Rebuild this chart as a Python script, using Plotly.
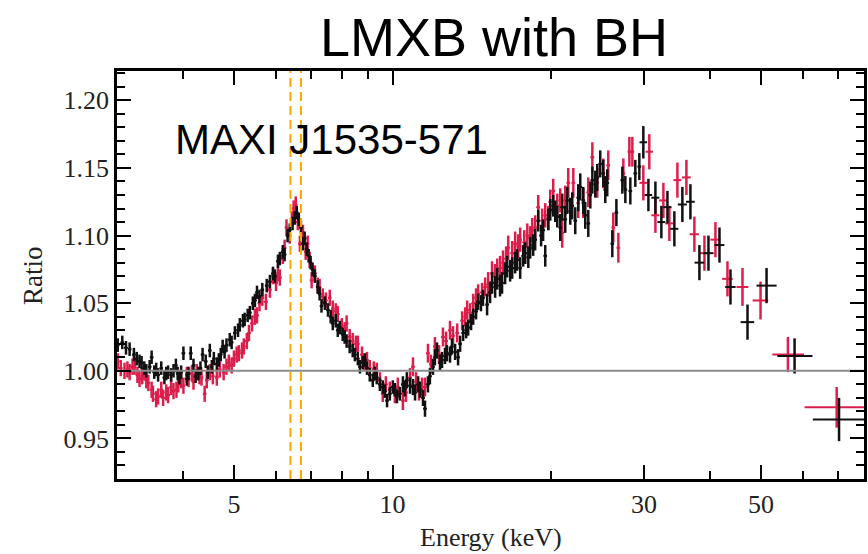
import math
import plotly.graph_objects as go

# ---------------- data ----------------
black_energy = [
    3.01, 3.07, 3.12, 3.17, 3.23, 3.27, 3.31, 3.34, 3.38, 3.41,
    3.46, 3.49, 3.53, 3.56, 3.59, 3.64, 3.69, 3.72, 3.75, 3.80,
    3.84, 3.88, 3.91, 3.94, 3.97, 4.01, 4.07, 4.10, 4.14, 4.19,
    4.23, 4.28, 4.32, 4.36, 4.42, 4.46, 4.50, 4.54, 4.58, 4.64,
    4.68, 4.72, 4.76, 4.80, 4.84, 4.91, 4.95, 5.02, 5.09, 5.13,
    5.20, 5.24, 5.31, 5.36, 5.43, 5.48, 5.53, 5.59, 5.66, 5.77,
    5.85, 5.93, 5.98, 6.06, 6.11, 6.19, 6.24, 6.32, 6.38, 6.46,
    6.52, 6.58, 6.64, 6.70, 6.76, 6.81, 6.87, 6.93, 6.99, 7.05,
    7.12, 7.21, 7.27, 7.33, 7.44, 7.54, 7.63, 7.70, 7.80, 7.87,
    7.94, 8.04, 8.11, 8.18, 8.29, 8.40, 8.48, 8.59, 8.67, 8.78,
    8.86, 8.94, 9.05, 9.17, 9.25, 9.33, 9.46, 9.58, 9.67, 9.76,
    9.88, 10.01, 10.10, 10.19, 10.32, 10.46, 10.55, 10.64, 10.79, 10.93,
    11.03, 11.18, 11.27, 11.42, 11.52, 11.67, 11.77, 11.93, 12.03, 12.14,
    12.30, 12.41, 12.57, 12.68, 12.85, 12.96, 13.14, 13.31, 13.43, 13.61,
    13.79, 13.91, 14.09, 14.22, 14.40, 14.53, 14.71, 14.84, 15.11, 15.31,
    15.44, 15.65, 15.79, 15.99, 16.13, 16.35, 16.49, 16.71, 16.86, 17.08,
    17.23, 17.46, 17.69, 17.85, 18.09, 18.24, 18.48, 18.64, 18.89, 19.13,
    19.30, 19.48, 19.74, 19.91, 20.17, 20.35, 20.53, 20.80, 20.98, 21.26,
    21.45, 21.73, 21.92, 22.21, 22.50, 22.70, 23.00, 23.20, 23.51, 23.72,
    23.93, 24.24, 24.45, 24.77, 25.10, 25.32, 25.54, 26.11, 26.58, 27.28,
    27.64, 28.25, 28.87, 29.38,
]
black_ratio = [
    1.019, 1.021, 1.017, 1.016, 1.012, 1.009, 1.007, 1.006, 1.002, 1.000,
    1.003, 1.010, 0.999, 1.001, 0.997, 1.002, 0.995, 0.998, 0.999, 0.997,
    1.000, 1.004, 0.998, 0.995, 0.999, 1.013, 0.994, 0.998, 1.013, 1.004,
    0.996, 0.998, 1.002, 1.012, 1.007, 0.999, 1.015, 1.003, 1.009, 1.005,
    1.008, 1.012, 1.018, 1.014, 1.019, 1.023, 1.021, 1.028, 1.030, 1.034,
    1.037, 1.038, 1.041, 1.043, 1.050, 1.052, 1.058, 1.055, 1.060, 1.063,
    1.066, 1.072, 1.070, 1.081, 1.083, 1.088, 1.086, 1.100, 1.104, 1.109,
    1.113, 1.117, 1.112, 1.106, 1.094, 1.098, 1.090, 1.085, 1.080, 1.075,
    1.070, 1.062, 1.057, 1.048, 1.050, 1.045, 1.040, 1.035, 1.037, 1.030,
    1.032, 1.027, 1.025, 1.022, 1.018, 1.015, 1.012, 1.009, 1.003, 1.006,
    1.008, 1.002, 0.997, 0.993, 0.998, 0.995, 0.990, 0.988, 0.985, 0.978,
    0.983, 0.988, 0.986, 0.981, 0.983, 0.990, 0.987, 0.993, 0.989, 0.988,
    0.984, 0.990, 0.986, 0.980, 0.972, 0.990, 0.996, 1.003, 1.010, 1.015,
    1.006, 1.008, 1.011, 1.013, 1.012, 1.018, 1.014, 1.010, 1.020, 1.028,
    1.030, 1.032, 1.036, 1.040, 1.044, 1.051, 1.050, 1.054, 1.049, 1.058,
    1.065, 1.062, 1.068, 1.063, 1.065, 1.072, 1.077, 1.074, 1.076, 1.080,
    1.082, 1.076, 1.085, 1.087, 1.084, 1.091, 1.093, 1.097, 1.111, 1.100,
    1.104, 1.085, 1.112, 1.119, 1.122, 1.118, 1.114, 1.106, 1.121, 1.112,
    1.126, 1.118, 1.122, 1.111, 1.128, 1.136, 1.126, 1.115, 1.109, 1.130,
    1.141, 1.138, 1.143, 1.153, 1.146, 1.134, 1.139, 1.094, 1.117, 1.141,
    1.134, 1.133, 1.146, 1.151,
]
black_err = [
    0.005, 0.005, 0.005, 0.005, 0.005, 0.005, 0.005, 0.005, 0.005, 0.005,
    0.005, 0.005, 0.005, 0.005, 0.005, 0.005, 0.005, 0.005, 0.005, 0.005,
    0.005, 0.005, 0.005, 0.005, 0.005, 0.005, 0.005, 0.005, 0.005, 0.005,
    0.005, 0.005, 0.005, 0.005, 0.005, 0.005, 0.005, 0.005, 0.005, 0.005,
    0.005, 0.005, 0.005, 0.005, 0.005, 0.005, 0.005, 0.005, 0.005, 0.005,
    0.005, 0.005, 0.005, 0.005, 0.005, 0.005, 0.005, 0.005, 0.005, 0.005,
    0.005, 0.005, 0.005, 0.005, 0.005, 0.005, 0.005, 0.005, 0.005, 0.005,
    0.005, 0.005, 0.005, 0.005, 0.005, 0.005, 0.005, 0.005, 0.005, 0.005,
    0.005, 0.005, 0.005, 0.005, 0.005, 0.005, 0.005, 0.005, 0.005, 0.005,
    0.005, 0.005, 0.005, 0.005, 0.005, 0.005, 0.005, 0.005, 0.005, 0.005,
    0.005, 0.005, 0.005, 0.005, 0.005, 0.005, 0.005, 0.005, 0.005, 0.005,
    0.005, 0.005, 0.005, 0.005, 0.005, 0.006, 0.006, 0.006, 0.006, 0.006,
    0.006, 0.006, 0.006, 0.006, 0.006, 0.006, 0.006, 0.006, 0.006, 0.006,
    0.006, 0.006, 0.006, 0.006, 0.006, 0.006, 0.006, 0.006, 0.006, 0.006,
    0.006, 0.006, 0.006, 0.006, 0.006, 0.006, 0.006, 0.006, 0.008, 0.008,
    0.008, 0.008, 0.008, 0.008, 0.008, 0.008, 0.008, 0.008, 0.008, 0.008,
    0.008, 0.008, 0.008, 0.008, 0.008, 0.008, 0.008, 0.008, 0.008, 0.008,
    0.008, 0.008, 0.008, 0.008, 0.008, 0.008, 0.008, 0.010, 0.010, 0.010,
    0.010, 0.010, 0.010, 0.010, 0.010, 0.010, 0.010, 0.010, 0.010, 0.010,
    0.010, 0.010, 0.010, 0.010, 0.010, 0.010, 0.010, 0.010, 0.010, 0.010,
    0.010, 0.010, 0.010, 0.010,
]

# wide high-energy bins (black)
black_hi_energy = [29.90, 30.57, 31.52, 32.35, 33.22, 34.24, 35.46, 36.73,
                   38.20, 39.74, 41.70, 43.75, 47.13, 51.22, 57.89, 70.30]
black_hi_ratio = [1.169, 1.130, 1.128, 1.110, 1.121, 1.105, 1.123, 1.125,
                  1.080, 1.087, 1.093, 1.062, 1.036, 1.063, 1.011, 0.964]
black_hi_err = [0.012, 0.012, 0.012, 0.012, 0.012, 0.013, 0.013, 0.013,
                0.013, 0.013, 0.013, 0.013, 0.013, 0.013, 0.013, 0.016]
black_hi_elo = [0.5, 0.5, 0.55, 0.55, 0.6, 0.6, 0.7, 0.7,
                0.8, 0.9, 0.9, 1.0, 1.4, 2.2, 4.2, 7.6]
black_hi_ehi = [0.5, 0.5, 0.55, 0.55, 0.6, 0.6, 0.7, 0.7,
                0.8, 0.9, 0.9, 1.0, 1.4, 2.3, 4.7, 8.1]

red_energy = [
    3.01, 3.05, 3.10, 3.14, 3.17, 3.21, 3.24, 3.28, 3.31, 3.35,
    3.38, 3.41, 3.44, 3.49, 3.51, 3.56, 3.59, 3.64, 3.67, 3.72,
    3.75, 3.80, 3.84, 3.89, 3.92, 3.97, 4.01, 4.07, 4.10, 4.16,
    4.19, 4.25, 4.30, 4.34, 4.40, 4.44, 4.50, 4.56, 4.64, 4.70,
    4.78, 4.84, 4.89, 4.95, 5.00, 5.06, 5.11, 5.18, 5.22, 5.29,
    5.34, 5.41, 5.48, 5.53, 5.59, 5.66, 5.75, 5.85, 5.93, 6.01,
    6.06, 6.11, 6.19, 6.24, 6.29, 6.38, 6.44, 6.49, 6.55, 6.61,
    6.67, 6.76, 6.84, 6.90, 6.96, 7.02, 7.12, 7.21, 7.27, 7.37,
    7.47, 7.60, 7.70, 7.80, 7.87, 8.01, 8.11, 8.18, 8.29, 8.40,
    8.52, 8.59, 8.75, 8.86, 8.94, 9.05, 9.21, 9.33, 9.46, 9.58,
    9.71, 9.88, 10.10, 10.23, 10.46, 10.60, 10.79, 10.93, 11.08, 11.22,
    11.37, 11.52, 11.67, 11.82, 12.03, 12.25, 12.46, 12.63, 12.85, 13.02,
    13.26, 13.55, 13.73, 13.85, 14.03, 14.22, 14.40, 14.53, 14.78, 14.98,
    15.18, 15.44, 15.65, 15.79, 15.99, 16.20, 16.42, 16.57, 16.86, 17.08,
    17.31, 17.46, 17.77, 18.01, 18.24, 18.40, 18.64, 18.89, 19.22, 19.48,
    19.74, 19.91, 20.17, 20.53, 20.80, 20.98, 21.26, 21.54, 22.02, 22.50,
    23.00, 23.51, 23.93, 24.45, 25.10, 25.65, 26.22, 26.81, 27.40, 28.13,
    28.50,
]
red_ratio = [
    1.007, 1.002, 1.000, 1.001, 0.999, 1.003, 1.003, 0.997, 0.994, 0.996,
    0.999, 0.993, 0.991, 0.986, 0.983, 0.979, 0.981, 0.986, 0.980, 0.984,
    0.982, 0.988, 0.985, 0.986, 0.990, 0.993, 0.989, 0.997, 0.994, 0.998,
    0.992, 0.999, 0.996, 0.995, 0.983, 0.993, 0.999, 0.996, 0.995, 1.001,
    0.999, 1.003, 1.006, 1.004, 1.009, 1.012, 1.013, 1.015, 1.018, 1.022,
    1.028, 1.035, 1.040, 1.041, 1.050, 1.054, 1.051, 1.060, 1.070, 1.065,
    1.072, 1.069, 1.085, 1.091, 1.106, 1.100, 1.112, 1.120, 1.123, 1.110,
    1.094, 1.102, 1.088, 1.094, 1.082, 1.067, 1.072, 1.063, 1.062, 1.055,
    1.052, 1.054, 1.046, 1.044, 1.042, 1.033, 1.030, 1.035, 1.025, 1.022,
    1.020, 1.020, 1.012, 1.006, 1.008, 1.002, 1.001, 1.000, 0.993, 0.983,
    0.990, 0.986, 0.983, 0.988, 0.978, 0.984, 0.995, 1.003, 0.992, 0.985,
    0.988, 0.988, 1.013, 1.005, 1.018, 1.012, 1.025, 1.022, 1.030, 1.026,
    1.028, 1.037, 1.040, 1.045, 1.043, 1.050, 1.054, 1.057, 1.058, 1.062,
    1.064, 1.072, 1.070, 1.074, 1.076, 1.080, 1.083, 1.091, 1.087, 1.094,
    1.092, 1.097, 1.095, 1.100, 1.098, 1.104, 1.106, 1.121, 1.111, 1.115,
    1.113, 1.125, 1.133, 1.122, 1.126, 1.102, 1.126, 1.139, 1.139, 1.124,
    1.124, 1.132, 1.158, 1.139, 1.146, 1.152, 1.106, 1.091, 1.146, 1.162,
    1.162,
]
red_err = [
    0.006, 0.006, 0.006, 0.006, 0.006, 0.006, 0.006, 0.006, 0.006, 0.006,
    0.006, 0.006, 0.006, 0.006, 0.006, 0.006, 0.006, 0.006, 0.006, 0.006,
    0.006, 0.006, 0.006, 0.006, 0.006, 0.006, 0.006, 0.006, 0.006, 0.006,
    0.006, 0.006, 0.006, 0.006, 0.006, 0.006, 0.006, 0.006, 0.006, 0.006,
    0.006, 0.006, 0.006, 0.006, 0.006, 0.006, 0.006, 0.006, 0.006, 0.006,
    0.006, 0.006, 0.006, 0.006, 0.006, 0.006, 0.006, 0.006, 0.006, 0.006,
    0.006, 0.006, 0.006, 0.006, 0.006, 0.006, 0.006, 0.006, 0.006, 0.006,
    0.006, 0.006, 0.006, 0.006, 0.006, 0.006, 0.006, 0.006, 0.006, 0.006,
    0.006, 0.006, 0.006, 0.006, 0.006, 0.006, 0.006, 0.006, 0.006, 0.006,
    0.006, 0.006, 0.006, 0.006, 0.006, 0.006, 0.006, 0.006, 0.006, 0.006,
    0.006, 0.006, 0.007, 0.007, 0.007, 0.007, 0.007, 0.007, 0.007, 0.007,
    0.007, 0.007, 0.007, 0.007, 0.007, 0.007, 0.007, 0.007, 0.007, 0.007,
    0.007, 0.007, 0.007, 0.007, 0.007, 0.007, 0.007, 0.007, 0.007, 0.007,
    0.009, 0.009, 0.009, 0.009, 0.009, 0.009, 0.009, 0.009, 0.009, 0.009,
    0.009, 0.009, 0.009, 0.009, 0.009, 0.009, 0.009, 0.009, 0.009, 0.009,
    0.009, 0.009, 0.009, 0.009, 0.009, 0.011, 0.011, 0.011, 0.011, 0.011,
    0.011, 0.011, 0.011, 0.011, 0.011, 0.011, 0.011, 0.011, 0.011, 0.011,
    0.011,
]

red_hi_energy = [29.90, 30.69, 31.52, 32.64, 33.50, 34.70, 36.09, 37.37,
                 39.05, 40.97, 43.18, 46.11, 49.89, 56.23, 69.58]
red_hi_ratio = [1.139, 1.162, 1.115, 1.126, 1.109, 1.141, 1.143, 1.101,
                1.087, 1.097, 1.068, 1.062, 1.052, 1.012, 0.973]
red_hi_err = [0.013, 0.013, 0.013, 0.013, 0.013, 0.013, 0.013, 0.013,
              0.013, 0.013, 0.013, 0.014, 0.014, 0.013, 0.015]
red_hi_elo = [0.5, 0.5, 0.55, 0.6, 0.6, 0.6, 0.7, 0.75,
              0.8, 0.9, 1.0, 1.2, 1.7, 3.7, 9.1]
red_hi_ehi = [0.5, 0.5, 0.55, 0.6, 0.6, 0.6, 0.7, 0.75,
              0.8, 0.9, 1.0, 1.2, 1.7, 4.1, 8.8]

fe_lines = [6.4, 6.7]
x_ticks = [5, 10, 30, 50]
x_minor = [4, 6, 7, 8, 9, 20, 40, 60, 70]
y_ticks = [0.95, 1.00, 1.05, 1.10, 1.15, 1.20]
y_ticktext = ["0.95", "1.00", "1.05", "1.10", "1.15", "1.20"]
x_range = [3.0, 78.4]
y_range = [0.92, 1.2217]

assert len(black_energy) == len(black_ratio) == len(black_err)
assert len(red_energy) == len(red_ratio) == len(red_err)
assert len(black_hi_energy) == len(black_hi_ratio) == len(black_hi_err) == len(black_hi_elo) == len(black_hi_ehi)
assert len(red_hi_energy) == len(red_hi_ratio) == len(red_hi_err) == len(red_hi_elo) == len(red_hi_ehi)

# ---------------- styling ----------------
W, H = 868, 554
RED = "#DC1E4B"
BLACK = "#111111"
SERIF = "Liberation Serif, Times New Roman, serif"
SANS = "Liberation Sans, Arial, sans-serif"


def dense(x, y, e, color):
    return go.Scatter(
        x=x, y=y, mode="markers",
        marker=dict(size=3, color=color),
        error_y=dict(type="data", array=e, color=color, thickness=2.5, width=0),
        error_x=dict(type="percent", value=0.8, color=color, thickness=2, width=0),
        showlegend=False, hoverinfo="skip",
    )


def wide(x, y, e, lo, hi, color):
    return go.Scatter(
        x=x, y=y, mode="markers",
        marker=dict(size=2, color=color),
        error_y=dict(type="data", array=e, color=color, thickness=2.5, width=0),
        error_x=dict(type="data", symmetric=False, array=hi, arrayminus=lo,
                     color=color, thickness=2, width=0),
        showlegend=False, hoverinfo="skip",
    )


fig = go.Figure()
fig.add_trace(dense(red_energy, red_ratio, red_err, RED))
fig.add_trace(wide(red_hi_energy, red_hi_ratio, red_hi_err, red_hi_elo, red_hi_ehi, RED))
fig.add_trace(dense(black_energy, black_ratio, black_err, BLACK))
fig.add_trace(wide(black_hi_energy, black_hi_ratio, black_hi_err, black_hi_elo, black_hi_ehi, BLACK))

# reference line at ratio 1
fig.add_trace(go.Scatter(x=x_range, y=[1.0, 1.0], mode="lines",
                         line=dict(color="#8c8c8c", width=2),
                         showlegend=False, hoverinfo="skip"))
# Fe line markers
for e in fe_lines:
    fig.add_trace(go.Scatter(x=[e, e], y=y_range, mode="lines",
                             line=dict(color="#FFA500", width=2, dash="9px,5px"),
                             showlegend=False, hoverinfo="skip"))

axis_common = dict(
    showline=True, linecolor="black", linewidth=2.5, mirror="ticks",
    ticks="inside", ticklen=14, tickwidth=2, tickcolor="black",
    showgrid=False, zeroline=False,
    tickfont=dict(family=SERIF, size=26, color="#222222"),
)

fig.update_layout(
    width=W, height=H,
    margin=dict(l=0, r=0, t=0, b=0),
    paper_bgcolor="white", plot_bgcolor="white",
    xaxis=dict(
        type="log",
        range=[math.log10(x_range[0]), math.log10(x_range[1])],
        domain=[117 / W, 864 / W],
        tickvals=x_ticks, ticktext=[str(v) for v in x_ticks],
        minor=dict(tickvals=x_minor, ticks="inside", ticklen=8, tickwidth=2,
                   tickcolor="black", showgrid=False),
        **axis_common,
    ),
    yaxis=dict(
        range=y_range,
        domain=[(H - 479) / H, (H - 71) / H],
        tickvals=y_ticks, ticktext=y_ticktext,
        minor=dict(dtick=0.01, tick0=0.92, ticks="inside", ticklen=8, tickwidth=2,
                   tickcolor="black", showgrid=False),
        **axis_common,
    ),
    annotations=[
        dict(text="LMXB with BH", x=494 / W, y=1 - 37 / H, xref="paper", yref="paper",
             xanchor="center", yanchor="middle", showarrow=False,
             font=dict(family=SANS, size=54, color="black")),
        dict(text="MAXI J1535-571", x=173 / W, y=1 - 139 / H, xref="paper", yref="paper",
             xanchor="left", yanchor="middle", showarrow=False,
             font=dict(family=SANS, size=42, color="black")),
        dict(text="Energy (keV)", x=491 / W, y=1 - 537 / H, xref="paper", yref="paper",
             xanchor="center", yanchor="middle", showarrow=False,
             font=dict(family=SERIF, size=26, color="#222222")),
        dict(text="Ratio", x=33 / W, y=1 - 276 / H, xref="paper", yref="paper",
             xanchor="center", yanchor="middle", showarrow=False, textangle=-90,
             font=dict(family=SERIF, size=27, color="#222222")),
    ],
)

fig.write_html("out.html")
